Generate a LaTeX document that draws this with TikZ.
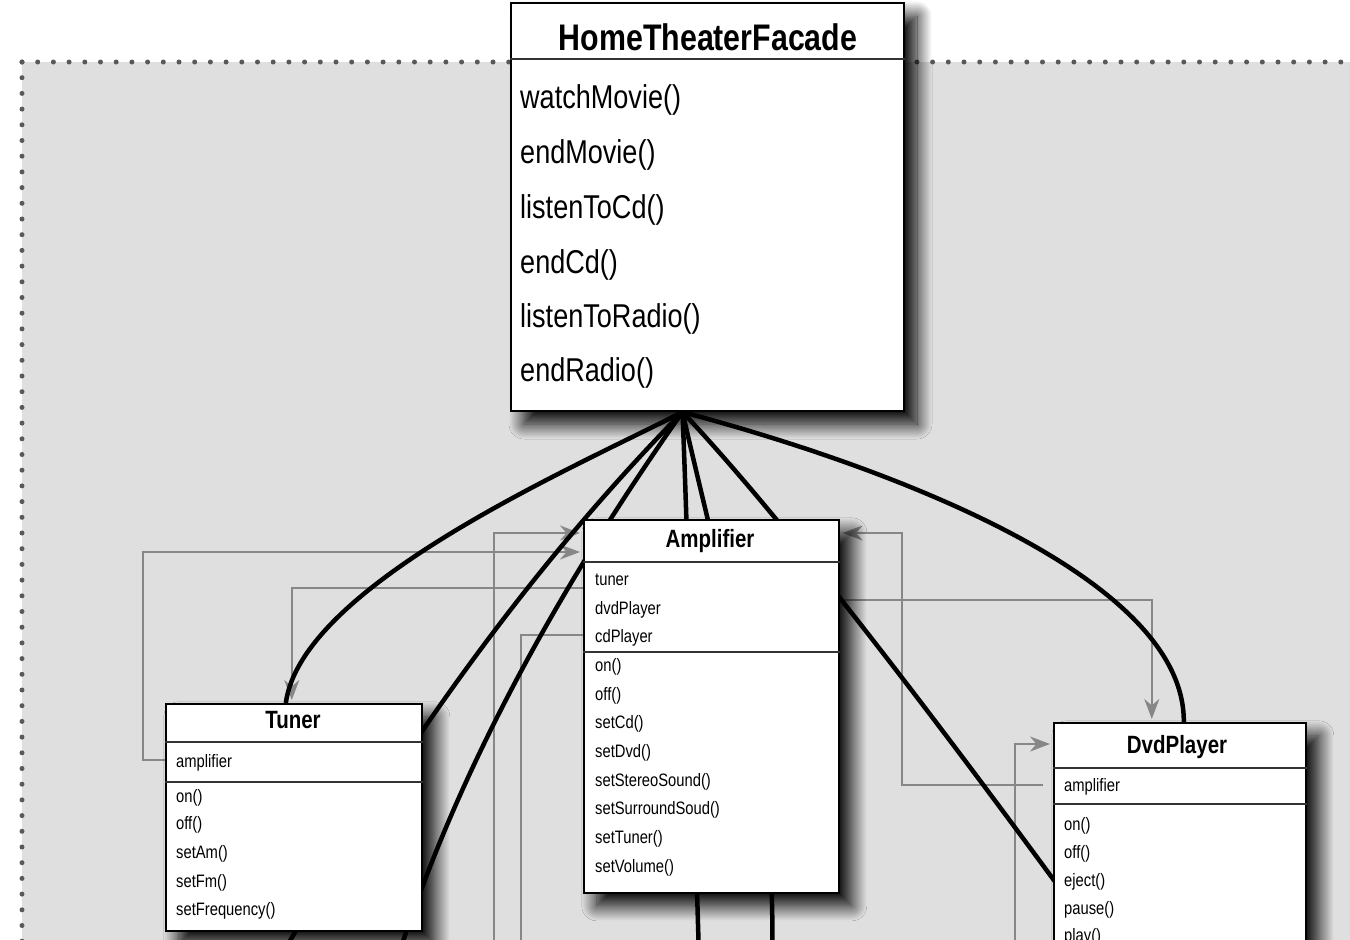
\documentclass[tikz,border=0pt]{standalone}
\usepackage{fontspec}
\setmainfont{Liberation Sans}[FakeStretch=0.82]
\usetikzlibrary{arrows.meta}
\usetikzlibrary{backgrounds}
\usetikzlibrary{shadows.blur}
\tikzset{cls/.style={draw,line width=1.6pt,fill=white,inner sep=0pt,anchor=north west,blur shadow={shadow xshift=13pt,shadow yshift=-13pt,shadow blur radius=15pt,shadow blur steps=24,shadow opacity=100}}}
\tikzset{sep/.style={line width=2pt,draw=black!80}}
\tikzset{big/.style={font=\fontsize{33}{33}\selectfont,anchor=west,inner sep=0pt,text height=28pt,text depth=5pt}}
\tikzset{sm/.style={font=\fontsize{18}{18}\selectfont,anchor=west,inner sep=0pt,text height=16pt,text depth=3.5pt}}
\tikzset{bigt/.style={font=\bfseries\fontsize{37}{37}\selectfont,inner sep=0pt,text height=26.5pt,text depth=0pt}}
\tikzset{smt/.style={font=\bfseries\fontsize{25}{25}\selectfont,inner sep=0pt,text height=17.9pt,text depth=0pt}}
\tikzset{dep/.style={line width=4.5pt}}
\tikzset{ref/.style={draw=black!47,line width=2pt,-{Stealth[length=20pt,width=15pt]},shorten >=3pt}}
\tikzset{dots/.style={draw=black!65,line width=5pt,line cap=round,dash pattern=on 0pt off 15.7pt}}

\begin{document}
\begin{tikzpicture}[x=1pt,y=-1pt]
        \useasboundingbox (0,0) rectangle (1350,940);
        \clip (0,0) rectangle (1350,940);
        % classes
        \node[cls,line width=2pt,minimum width=393pt,minimum height=408pt] (facade) at (510,2) {};
        \draw[sep] ([yshift=-57]facade.north west) -- ([yshift=-57]facade.north east);
        \node[bigt] (facadeT) at (708,37) {HomeTheaterFacade};
        \node[big] (fm1) at (520,97) {watchMovie()};
        \node[big] (fm2) at (520,152) {endMovie()};
        \node[big] (fm3) at (520,207) {listenToCd()};
        \node[big] (fm4) at (520,262) {endCd()};
        \node[big] (fm5) at (520,316) {listenToRadio()};
        \node[big] (fm6) at (520,370) {endRadio()};

        \node[cls,minimum width=255pt,minimum height=373pt] (amp) at (583,519) {};
        \draw[sep] ([yshift=-43]amp.north west) -- ([yshift=-43]amp.north east);
        \draw[sep] ([yshift=-133]amp.north west) -- ([yshift=-133]amp.north east);
        \node[smt] (ampT) at (710,539) {Amplifier};
        \node[sm] (amA1) at (595,579) {tuner};
        \node[sm] (amA2) at (595,608) {dvdPlayer};
        \node[sm] (amA3) at (595,636) {cdPlayer};
        \node[sm] (amM1) at (595,665) {on()};
        \node[sm] (amM2) at (595,694) {off()};
        \node[sm] (amM3) at (595,722) {setCd()};
        \node[sm] (amM4) at (595,751) {setDvd()};
        \node[sm] (amM5) at (595,780) {setStereoSound()};
        \node[sm] (amM6) at (595,808) {setSurroundSoud()};
        \node[sm] (amM7) at (595,837) {setTuner()};
        \node[sm] (amM8) at (595,866) {setVolume()};

        \node[cls,minimum width=256pt,minimum height=227pt] (tuner) at (165,703) {};
        \draw[sep] ([yshift=-39]tuner.north west) -- ([yshift=-39]tuner.north east);
        \draw[sep] ([yshift=-79]tuner.north west) -- ([yshift=-79]tuner.north east);
        \node[smt] (tuT) at (293,720) {Tuner};
        \node[sm] (tuA1) at (176,761) {amplifier};
        \node[sm] (tuM1) at (176,796) {on()};
        \node[sm] (tuM2) at (176,823) {off()};
        \node[sm] (tuM3) at (176,852) {setAm()};
        \node[sm] (tuM4) at (176,881) {setFm()};
        \node[sm] (tuM5) at (176,909) {setFrequency()};

        \node[cls,minimum width=252pt,minimum height=300pt] (dvd) at (1053,722) {};
        \draw[sep] ([yshift=-46]dvd.north west) -- ([yshift=-46]dvd.north east);
        \draw[sep] ([yshift=-82]dvd.north west) -- ([yshift=-82]dvd.north east);
        \node[smt] (dvT) at (1177,745) {DvdPlayer};
        \node[sm] (dvA1) at (1064,785) {amplifier};
        \node[sm] (dvM1) at (1064,824) {on()};
        \node[sm] (dvM2) at (1064,852) {off()};
        \node[sm] (dvM3) at (1064,880) {eject()};
        \node[sm] (dvM4) at (1064,908) {pause()};
        \node[sm] (dvM5) at (1064,935) {play()};

        % ends outside the view
        \coordinate (hub) at ([xshift=-25]facade.south);
        \coordinate (belowA) at (262,990);
        \coordinate (belowB) at (388,990);
        \coordinate (belowC) at (700,990);
        \coordinate (belowD) at (770,990);
        \coordinate (belowE) at (1134,990);
        \coordinate (cdOut) at (494,990);
        \coordinate (cdIn) at (521,990);
        \coordinate (dvSrc) at (1015,990);
        \coordinate (tuBend) at (143,552);
        \coordinate (dvBend) at (902,533);

        \begin{scope}[on background layer]
          \fill[black!12.5] (22,62) rectangle (1360,1000);
          \draw[dots] (22,62) -- (1360,62);
          \draw[dots] (22,62) -- (22,1000);
          \draw[ref] ([yshift=-57]tuner.north west) -| (tuBend) -- ([yshift=-33]amp.north west);
          \draw[ref] ([yshift=-69]amp.north west) -| ([xshift=-2]tuner.north);
          \draw[ref] (cdOut) |- ([yshift=-14]amp.north west);
          \draw[ref] ([yshift=-116]amp.north west) -| (cdIn);
          \draw[ref] ([yshift=-81]amp.north east) -| ([xshift=-28]dvd.north);
          \draw[ref] ([xshift=-10,yshift=-63]dvd.north west) -| (dvBend) -- ([yshift=-14]amp.north east);
          \draw[ref] (dvSrc) |- ([yshift=-22]dvd.north west);
          \draw[dep] (hub) .. controls (580,465) and (302,584) .. ([xshift=-8]tuner.north);
          \draw[dep] (hub) .. controls (548,549) and (407,731) .. (belowA);
          \draw[dep] (hub) .. controls (538,617) and (440,810) .. (belowB);
          \draw[dep] (hub) .. controls (690,600) and (694,800) .. (belowC);
          \draw[dep] (hub) .. controls (725,600) and (785,800) .. (belowD);
          \draw[dep] (hub) .. controls (776,511) and (927,704) .. (belowE);
          \draw[dep] (hub) .. controls (900,470) and (1185,580) .. ([xshift=4]dvd.north);
        \end{scope}
      \end{tikzpicture}
\end{document}
